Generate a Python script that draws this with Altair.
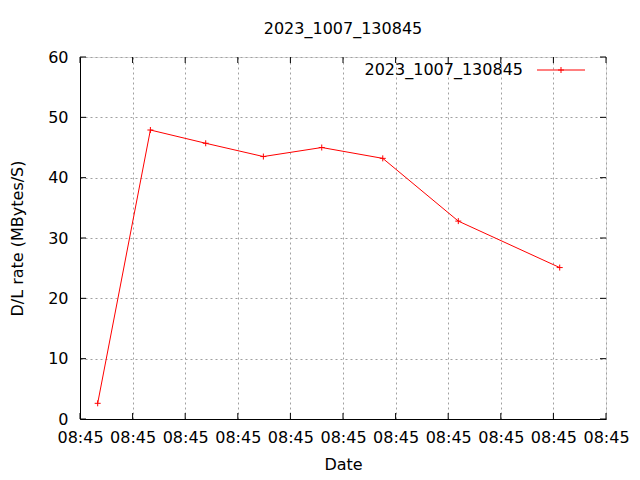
import altair as alt
import pandas as pd

# data (seconds after 08:45:00)
seconds = [1.68, 6.69, 11.95, 17.43, 22.98, 28.78, 35.96, 45.6]
rates = [2.6, 47.9, 45.7, 43.5, 45.0, 43.2, 32.8, 25.1]
series_name = "2023_1007_130845"
x_ticks = [0, 5, 10, 15, 20, 25, 30, 35, 40, 45, 50]
y_ticks = [0, 10, 20, 30, 40, 50, 60]

W, H = 526, 362
FONT = "DejaVu Sans"
FS = 16

df = pd.DataFrame({"t": seconds, "rate": rates, "series": series_name})
xt = pd.DataFrame({"t": x_ticks})
yt = pd.DataFrame({"v": y_ticks})

xscale = alt.Scale(domain=[0, 50], nice=False, zero=False)
yscale = alt.Scale(domain=[0, 60], nice=False)

grid_x = alt.Axis(values=x_ticks, labelExpr="'08:45'", title="Date", grid=True,
                  gridColor="#a0a0a0", gridDash=[2, 3], gridWidth=1,
                  ticks=False, labelPadding=10, domainColor="black",
                  labelFont=FONT, labelFontSize=FS, labelColor="black",
                  titleFont=FONT, titleFontSize=FS, titleFontWeight="normal",
                  titleColor="black", titlePadding=11, labelFlush=False)
grid_y = alt.Axis(values=y_ticks, title="D/L rate (MBytes/S)", grid=True,
                  gridColor="#a0a0a0", gridDash=[2, 3], gridWidth=1,
                  ticks=False, labelPadding=12, domainColor="black",
                  labelFont=FONT, labelFontSize=FS, labelColor="black",
                  titleFont=FONT, titleFontSize=FS, titleFontWeight="normal",
                  titleColor="black", titlePadding=22)

line = alt.Chart(df).mark_line(color="red", strokeWidth=1).encode(
    x=alt.X("t:Q", scale=xscale, axis=grid_x),
    y=alt.Y("rate:Q", scale=yscale, axis=grid_y),
)
pts = alt.Chart(df).mark_point(
    shape="M-1,0L1,0M0,-1L0,1", filled=False, color="red", size=36, strokeWidth=1, opacity=1
).encode(x="t:Q", y="rate:Q")

tick_len = 6
yl = alt.Chart(yt).mark_rule(color="black").encode(
    y=alt.Y("v:Q", scale=yscale), x=alt.value(0), x2=alt.value(tick_len))
yr = alt.Chart(yt).mark_rule(color="black").encode(
    y=alt.Y("v:Q", scale=yscale), x=alt.value(W - tick_len), x2=alt.value(W))
xb = alt.Chart(xt).mark_rule(color="black").encode(
    x=alt.X("t:Q", scale=xscale), y=alt.value(H), y2=alt.value(H - tick_len))
xtop = alt.Chart(xt).mark_rule(color="black").encode(
    x=alt.X("t:Q", scale=xscale), y=alt.value(0), y2=alt.value(tick_len))

# legend
leg = pd.DataFrame({"name": [series_name]})
leg_text = alt.Chart(leg).mark_text(
    align="right", baseline="middle", font=FONT, fontSize=FS, color="black"
).encode(text="name:N", x=alt.value(443), y=alt.value(13))
leg_line = alt.Chart(leg).mark_rule(color="red", strokeWidth=1).encode(
    x=alt.value(457), x2=alt.value(505), y=alt.value(13))
leg_pt = alt.Chart(leg).mark_point(
    shape="M-1,0L1,0M0,-1L0,1", filled=False, color="red", size=36, strokeWidth=1, opacity=1
).encode(x=alt.value(481), y=alt.value(13))

chart = alt.layer(line, pts, yl, yr, xb, xtop, leg_text, leg_line, leg_pt).properties(
    width=W, height=H,
    title=alt.TitleParams(series_name, font=FONT, fontSize=FS, fontWeight="normal",
                          color="black", anchor="middle", offset=12),
    autosize=alt.AutoSizeParams(type="none"),
    padding={"left": 72, "top": 49, "right": 26, "bottom": 56},
).configure_view(stroke="black", strokeWidth=1).configure(background="white")

chart.save("out.html", embed_options={"renderer": "svg", "actions": False})
